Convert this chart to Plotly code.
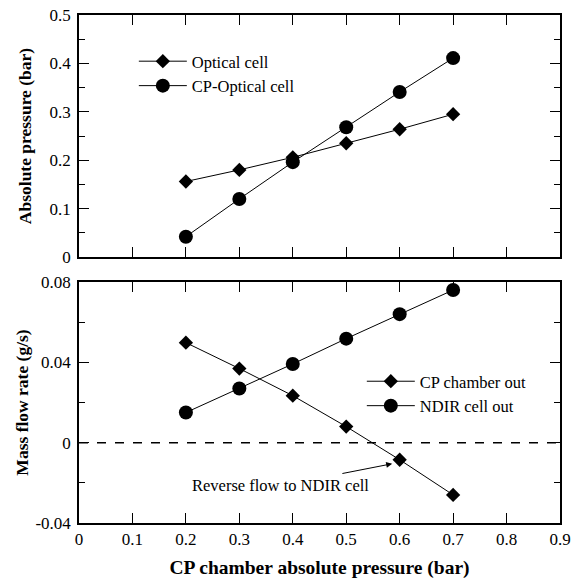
import plotly.graph_objects as go
from plotly.subplots import make_subplots

# CP chamber absolute pressure (bar)
cp_pressure = [0.2, 0.3, 0.4, 0.5, 0.6, 0.7]

# Absolute pressure (bar)
optical_cell = [0.156, 0.180, 0.206, 0.235, 0.264, 0.295]
cp_optical_cell = [0.042, 0.120, 0.196, 0.268, 0.341, 0.411]

# Mass flow rate (g/s)
cp_chamber_out = [0.0498, 0.0369, 0.0234, 0.0080, -0.0085, -0.0260]
ndir_cell_out = [0.0150, 0.0270, 0.0392, 0.0518, 0.0640, 0.0760]

x_ticks = [0, 0.1, 0.2, 0.3, 0.4, 0.5, 0.6, 0.7, 0.8, 0.9]
x_tick_labels = ["0", "0.1", "0.2", "0.3", "0.4", "0.5", "0.6", "0.7", "0.8", "0.9"]
top_y_ticks = [0, 0.1, 0.2, 0.3, 0.4, 0.5]
top_y_labels = ["0", "0.1", "0.2", "0.3", "0.4", "0.5"]
bot_y_ticks = [-0.04, 0, 0.04, 0.08]
bot_y_labels = ["-0.04", "0", "0.04", "0.08"]

FONT = "Liberation Serif, Times New Roman, serif"

fig = make_subplots(rows=2, cols=1, shared_xaxes=False)

line_style = dict(color="black", width=1)

fig.add_trace(go.Scatter(x=cp_pressure, y=optical_cell, mode="lines+markers",
                         name="Optical cell", line=line_style,
                         marker=dict(symbol="diamond", size=11, color="black"),
                         legend="legend"), row=1, col=1)
fig.add_trace(go.Scatter(x=cp_pressure, y=cp_optical_cell, mode="lines+markers",
                         name="CP-Optical cell", line=line_style,
                         marker=dict(symbol="circle", size=14, color="black"),
                         legend="legend"), row=1, col=1)
fig.add_trace(go.Scatter(x=cp_pressure, y=cp_chamber_out, mode="lines+markers",
                         name="CP chamber out", line=line_style,
                         marker=dict(symbol="diamond", size=11, color="black"),
                         legend="legend2"), row=2, col=1)
fig.add_trace(go.Scatter(x=cp_pressure, y=ndir_cell_out, mode="lines+markers",
                         name="NDIR cell out", line=line_style,
                         marker=dict(symbol="circle", size=14, color="black"),
                         legend="legend2"), row=2, col=1)

# zero-flow reference line
fig.add_shape(type="line", xref="x2 domain", yref="y2", x0=0, x1=1, y0=0, y1=0,
              line=dict(color="black", width=1.5, dash="dash"))

fig.add_annotation(xref="x2", yref="y2", x=0.586, y=-0.0105,
                   ax=0.49, ay=-0.0155, axref="x2", ayref="y2",
                   text="", showarrow=True, arrowhead=2, arrowsize=1.2,
                   arrowwidth=1, arrowcolor="black")
fig.add_annotation(xref="x2", yref="y2", x=0.377, y=-0.0215,
                   text="Reverse flow to NDIR cell", showarrow=False,
                   font=dict(family=FONT, size=16.5, color="black"))

axis_common = dict(showline=True, linecolor="black", linewidth=1.5, mirror="ticks",
                   ticks="inside", ticklen=10, tickwidth=1.3, tickcolor="black",
                   showgrid=False, zeroline=False, automargin=False,
                   tickfont=dict(family=FONT, size=17, color="black"))

fig.update_xaxes(**axis_common, range=[0, 0.9], tickvals=x_ticks, ticktext=x_tick_labels,
                 ticklabelstandoff=0)
fig.update_xaxes(showticklabels=False, row=1, col=1)
fig.update_xaxes(title=dict(text="<b>CP chamber absolute pressure (bar)</b>",
                            font=dict(family=FONT, size=19.5, color="black"), standoff=12),
                 row=2, col=1)

fig.update_yaxes(**axis_common, ticklabelstandoff=3)
fig.update_yaxes(range=[0, 0.5], tickvals=top_y_ticks, ticktext=top_y_labels,
                 domain=[0.5236, 1.0],
                 minor=dict(ticks="inside", ticklen=6, tickwidth=1.2, tickcolor="black",
                            dtick=0.05),
                 title=dict(text="<b>Absolute pressure (bar)</b>",
                            font=dict(family=FONT, size=17.5, color="black"), standoff=13),
                 row=1, col=1)
fig.update_yaxes(range=[-0.04, 0.08], tickvals=bot_y_ticks, ticktext=bot_y_labels,
                 domain=[0.0, 0.4744],
                 minor=dict(ticks="inside", ticklen=6, tickwidth=1.2, tickcolor="black",
                            tickvals=[-0.02, 0.02, 0.06]),
                 title=dict(text="<b>Mass flow rate (g/s)</b>",
                            font=dict(family=FONT, size=17.5, color="black"), standoff=2),
                 row=2, col=1)

legend_style = dict(font=dict(family=FONT, size=16.5, color="black"), bgcolor="rgba(0,0,0,0)",
                    itemwidth=48, tracegroupgap=0, xanchor="left", yanchor="top")

fig.update_layout(
    width=580, height=583,
    margin=dict(l=79, r=20, t=15, b=60),
    paper_bgcolor="white", plot_bgcolor="white",
    font=dict(family=FONT, color="black"),
    legend=dict(**legend_style, x=0.114, y=0.943),
    legend2=dict(**legend_style, x=0.588, y=0.313),
)

fig.write_html("out.html")
